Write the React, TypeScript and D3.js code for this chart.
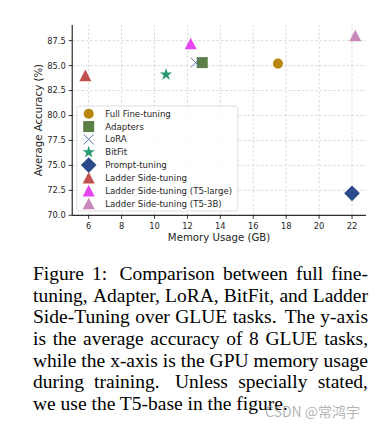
import React from "react";
import * as d3 from "d3";

const methods = [
  "Full Fine-tuning",
  "Adapters",
  "LoRA",
  "BitFit",
  "Prompt-tuning",
  "Ladder Side-tuning",
  "Ladder Side-tuning (T5-large)",
  "Ladder Side-tuning (T5-3B)",
];
const memoryGB = [17.5, 12.9, 12.5, 10.7, 22.0, 5.8, 12.2, 22.2];
const accuracy = [85.2, 85.3, 85.3, 84.1, 72.2, 84.0, 87.2, 88.0];
const shapes = ["circle", "square", "x", "star", "diamond", "triangle", "triangle", "triangle"];
const colors = ["#b8860b", "#5b7f45", "#5a78b5", "#2a9a74", "#2b4a8a", "#c0504d", "#e646f0", "#c888bb"];
const xTicks = [6, 8, 10, 12, 14, 16, 18, 20, 22];
const yTicks = [70, 72.5, 75, 77.5, 80, 82.5, 85, 87.5];

const captionLines = [
  "Figure 1: Comparison between full fine-",
  "tuning, Adapter, LoRA, BitFit, and Ladder",
  "Side-Tuning over GLUE tasks. The y-axis",
  "is the average accuracy of 8 GLUE tasks,",
  "while the x-axis is the GPU memory usage",
  "during training.  Unless specially stated,",
  "we use the T5-base in the figure.",
];

const W = 380;
const H = 431;

function markerPath(shape: string): string {
  switch (shape) {
    case "circle":
      return d3.symbol(d3.symbolCircle, 80)() as string;
    case "square":
      return "M-5.5,-5.5H5.5V5.5H-5.5Z";
    case "star":
      return d3.symbol(d3.symbolStar, 48)() as string;
    case "diamond":
      return "M0,-7.8L7.8,0L0,7.8L-7.8,0Z";
    case "triangle":
      return "M0,-6L6,5.6L-6,5.6Z";
    case "x":
      return "M-5,-5L5,5M-5,5L5,-5";
  }
  return "";
}

function Marker({ shape, color, x, y }: { shape: string; color: string; x: number; y: number }) {
  const d = markerPath(shape);
  if (shape === "x") {
    return <path d={d} transform={`translate(${x},${y})`} stroke={color} strokeWidth={1} fill="none" />;
  }
  return <path d={d} transform={`translate(${x},${y})`} fill={color} />;
}

const captionSize = 19.5;
const captionFont = `${captionSize}px 'Liberation Serif'`;
function measure(text: string): number {
  const c = document.createElement("canvas").getContext("2d");
  if (!c) return text.length * 8;
  c.font = captionFont;
  return c.measureText(text).width;
}

function Caption() {
  const left = 33;
  const right = 368;
  const base0 = 280;
  const lh = 21.65;
  return (
    <g fontFamily="'Liberation Serif', 'Times New Roman', serif" fontSize={captionSize} fill="#000">
      {captionLines.map((line, i) => {
        const y = base0 + i * lh;
        if (i === captionLines.length - 1) {
          return (
            <text key={i} x={left} y={y}>
              {line}
            </text>
          );
        }
        const words = line.split(/ +/);
        const widths = words.map((w) => measure(w));
        const total = widths.reduce((a, b) => a + b, 0);
        const weights = words.slice(0, -1).map((w) => (/[.:]$/.test(w) ? 1.5 : 1));
        const wsum = weights.reduce((a, b) => a + b, 0);
        const unit = (right - left - total) / wsum;
        let cx = left;
        return (
          <g key={i}>
            {words.map((w, j) => {
              const el = (
                <text key={j} x={cx} y={y}>
                  {w}
                </text>
              );
              cx += widths[j] + (j < weights.length ? unit * weights[j] : 0);
              return el;
            })}
          </g>
        );
      })}
    </g>
  );
}

export default function App() {
  const x = d3.scaleLinear().domain([5, 22.85]).range([72.2, 366]);
  const y = d3.scaleLinear().domain([70, 89.07]).range([215.3, 25]);
  const [x0, x1] = x.range();
  const [yb, yt] = y.range();
  const tickFont = 8.3;
  const legendX = 76.7;
  const legendY = 106;
  const legendW = 161;
  const legendH = 105;
  const rowH = 12.85;

  return (
    <svg
      width={W}
      height={H}
      style={{ position: "absolute", left: 0, top: 0, background: "#fff" }}
      fontFamily="'DejaVu Sans', sans-serif"
    >
      <rect x={0} y={0} width={W} height={H} fill="#fff" />
      {/* grid */}
      <g stroke="#d0d0d0" strokeWidth={0.8} strokeDasharray="2.5,2">
        {xTicks.map((t) => (
          <line key={"gx" + t} x1={x(t)} x2={x(t)} y1={yb} y2={yt} />
        ))}
        {yTicks.map((t) => (
          <line key={"gy" + t} x1={x0} x2={x1} y1={y(t)} y2={y(t)} />
        ))}
      </g>
      {/* axes */}
      <line x1={x0} x2={x0} y1={yb} y2={yt} stroke="#000" strokeWidth={1} />
      <line x1={x0} x2={x1} y1={yb} y2={yb} stroke="#000" strokeWidth={1} />
      {xTicks.map((t) => (
        <g key={"xt" + t}>
          <line x1={x(t)} x2={x(t)} y1={yb} y2={yb + 3.5} stroke="#000" strokeWidth={0.8} />
          <text x={x(t)} y={yb + 13.5} fontSize={tickFont} textAnchor="middle" fill="#262626">
            {t}
          </text>
        </g>
      ))}
      {yTicks.map((t) => (
        <g key={"yt" + t}>
          <line x1={x0 - 3.5} x2={x0} y1={y(t)} y2={y(t)} stroke="#000" strokeWidth={0.8} />
          <text x={x0 - 6.5} y={y(t)} dy="0.35em" fontSize={tickFont} textAnchor="end" fill="#262626">
            {t.toFixed(1)}
          </text>
        </g>
      ))}
      <text x={(x0 + x1) / 2} y={240.5} fontSize={10.2} textAnchor="middle" fill="#262626">
        Memory Usage (GB)
      </text>
      <text
        transform={`translate(41.5,${(yb + yt) / 2}) rotate(-90)`}
        fontSize={10.2}
        textAnchor="middle"
        fill="#262626"
      >
        Average Accuracy (%)
      </text>
      {/* points */}
      {methods.map((m, i) => (
        <Marker key={m} shape={shapes[i]} color={colors[i]} x={x(memoryGB[i])} y={y(accuracy[i])} />
      ))}
      {/* legend */}
      <rect
        x={legendX}
        y={legendY}
        width={legendW}
        height={legendH}
        rx={2.5}
        fill="#fff"
        fillOpacity={0.85}
        stroke="#d6d6d6"
        strokeWidth={0.8}
      />
      {methods.map((m, i) => {
        const cy = 113.7 + i * rowH;
        return (
          <g key={"lg" + m}>
            <Marker shape={shapes[i]} color={colors[i]} x={88.7} y={cy} />
            <text x={105.3} y={cy} dy="0.35em" fontSize={8.6} fill="#262626">
              {m}
            </text>
          </g>
        );
      })}
      <Caption />
      <text
        x={265}
        y={417}
        fontSize={14}
        fontFamily="'Noto Sans CJK SC', 'Noto Sans', sans-serif"
        fill="#9a9a9a"
        fillOpacity={0.75}
      >
        CSDN @常鸿宇
      </text>
    </svg>
  );
}
